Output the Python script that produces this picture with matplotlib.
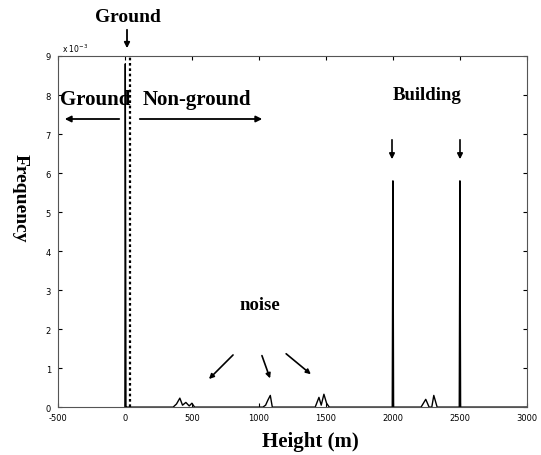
import matplotlib
matplotlib.use("Agg")
import matplotlib.pyplot as plt

plt.rcParams["axes.unicode_minus"] = False

# Data (frequency in units of 1e-3)
heights = [0, 3, 8, 15, 360, 385, 410, 430, 455, 480, 500, 520, 1030, 1050, 1067, 1085, 1100,
           1420, 1448, 1465, 1485, 1505, 1525, 1995, 2000, 2005, 2210, 2245, 2270, 2290, 2305, 2330,
           2495, 2500, 2505, 3000]
freqs = [0, 8.8, 0, 0, 0, 0.08, 0.23, 0.05, 0.12, 0.03, 0.1, 0, 0, 0.05, 0.18, 0.3, 0,
         0, 0.25, 0.05, 0.33, 0.1, 0, 0, 5.8, 0, 0, 0.2, 0, 0, 0.3, 0,
         0, 5.8, 0, 0]
divider_height = 40
xticks = [-500, 0, 500, 1000, 1500, 2000, 2500, 3000]
yticks = list(range(10))

serif = ["Liberation Serif", "DejaVu Serif"]

fig = plt.figure(figsize=(5.41, 4.56), dpi=100)
ax = fig.add_axes([0.107, 0.105, 0.867, 0.770])
ax.plot(heights, freqs, color="black", lw=1.0)
ax.axvline(divider_height, color="black", lw=1.6, ls=(0, (1.2, 1.2)))
ax.set_xlim(-500, 3000)
ax.set_ylim(0, 9)
ax.set_xticks(xticks)
ax.set_yticks(yticks)
ax.tick_params(direction="in", length=3, labelsize=6, top=True, right=True)
ax.tick_params(axis="x", pad=4)
ax.tick_params(axis="y", pad=5)
for s in ax.spines.values():
    s.set_linewidth(0.8)
    s.set_color("#555555")
ax.text(-470, 9.05, r"x 10$^{-3}$", fontsize=5.5, va="bottom", ha="left")

tk = dict(fontweight="bold", family=serif, color="black")
fig.text(310/541, 1-442/456, "Height (m)", ha="center", va="center", fontsize=15, **tk)
fig.text(20/541, 1-198/456, "Frequency", ha="center", va="center", rotation=270, fontsize=14, **tk)

# Top "Ground" with arrow
fig.text(128/541, 1-17/456, "Ground", ha="center", va="center", fontsize=14, **tk)
fig.add_artist(matplotlib.patches.FancyArrowPatch((127/541, 1-28/456), (127/541, 1-52/456),
               transform=fig.transFigure, arrowstyle="-|>", mutation_scale=8, color="black", lw=1.3))
# Ground / Non-ground
fig.text(95/541, 1-100/456, "Ground", ha="center", va="center", fontsize=15, **tk)
fig.text(197/541, 1-100/456, "Non-ground", ha="center", va="center", fontsize=15, **tk)
fig.add_artist(matplotlib.patches.FancyArrowPatch((122/541, 1-120/456), (62/541, 1-120/456),
               transform=fig.transFigure, arrowstyle="-|>", mutation_scale=9, color="black", lw=1.3))
fig.add_artist(matplotlib.patches.FancyArrowPatch((137/541, 1-120/456), (265/541, 1-120/456),
               transform=fig.transFigure, arrowstyle="-|>", mutation_scale=9, color="black", lw=1.3))
# Building
fig.text(427/541, 1-95/456, "Building", ha="center", va="center", fontsize=13.5, **tk)
for xp in (392, 460):
    fig.add_artist(matplotlib.patches.FancyArrowPatch((xp/541, 1-138/456), (xp/541, 1-163/456),
                   transform=fig.transFigure, arrowstyle="-|>", mutation_scale=8, color="black", lw=1.2))
# noise
fig.text(260/541, 1-305/456, "noise", ha="center", va="center", fontsize=13.5, **tk)
for (x0, y0, x1, y1) in [(235, 354, 207, 382), (261, 354, 271, 382), (284, 353, 313, 377)]:
    fig.add_artist(matplotlib.patches.FancyArrowPatch((x0/541, 1-y0/456), (x1/541, 1-y1/456),
                   transform=fig.transFigure, arrowstyle="-|>", mutation_scale=7, color="black", lw=1.2))

fig.savefig("out.png", dpi=100)
